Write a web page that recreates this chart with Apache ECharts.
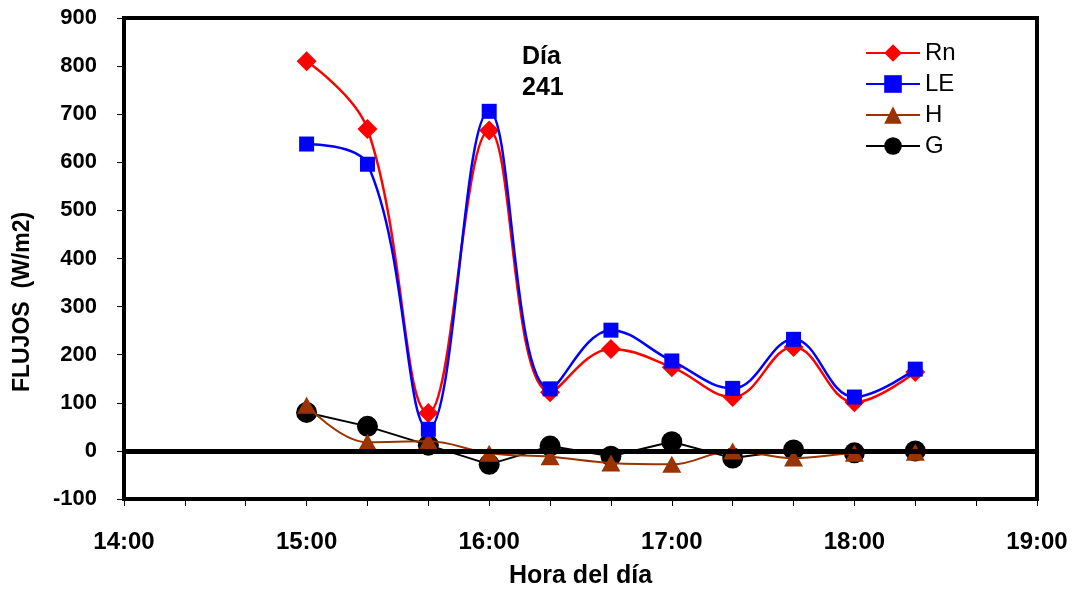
<!DOCTYPE html>
<html>
<head>
<meta charset="utf-8">
<script src="https://cdn.jsdelivr.net/npm/echarts@6/dist/echarts.min.js"></script>
<style>
html,body{margin:0;padding:0;background:#fff;}
#c{width:1082px;height:590px;}
</style>
</head>
<body>
<div id="c"></div>
<script>
// Data
const times = ["15:00","15:20","15:40","16:00","16:20","16:40","17:00","17:20","17:40","18:00","18:20"];
const Rn = [810, 669, 79, 666, 122, 212, 174, 112, 216, 101, 164];
const LE = [638, 596, 45, 706, 129, 251, 187, 130, 232, 112, 170];
const H  = [95, 18, 20, -5, -12, -25, -28, 0, -15, -5, -3];
const G  = [80, 51, 12, -28, 10, -11, 19, -15, 2, -4, 0];
const xTickLabels = ["14:00","15:00","16:00","17:00","18:00","19:00"];
const yTicks = [-100, 900, 100];

const toMin = s => { const p = s.split(":"); return (+p[0]) * 60 + (+p[1]); };
const pair = arr => times.map((t, i) => [toMin(t), arr[i]]);

const font = '"Liberation Sans", Arial, sans-serif';
const chart = echarts.init(document.getElementById('c'), null, {renderer: 'canvas'});
chart.setOption({
  animation: false,
  backgroundColor: '#fff',
  grid: {left: 124, right: 45, top: 18, bottom: 91, outerBoundsMode: 'none', containLabel: false,
    show: true, borderColor: '#000', borderWidth: 4, backgroundColor: 'transparent'},
  xAxis: {
    type: 'value', min: toMin(xTickLabels[0]), max: toMin(xTickLabels[xTickLabels.length - 1]), interval: 60,
    axisLine: {show: true, onZero: false, lineStyle: {color: '#000', width: 4}},
    axisTick: {show: true, length: 7, lineStyle: {color: '#000', width: 1}},
    minorTick: {show: true, splitNumber: 3, length: 7, lineStyle: {color: '#000', width: 1}},
    splitLine: {show: false},
    axisLabel: {
      margin: 31, color: '#000', fontFamily: font, fontWeight: 'bold', fontSize: 24,
      formatter: v => xTickLabels.find(s => toMin(s) === v) || ''
    },
    name: 'Hora del día', nameLocation: 'middle', nameGap: 65,
    nameTextStyle: {color: '#000', fontFamily: font, fontWeight: 'bold', fontSize: 25}
  },
  yAxis: {
    type: 'value', min: yTicks[0], max: yTicks[1], interval: yTicks[2],
    axisLine: {show: true, lineStyle: {color: '#000', width: 4}},
    axisTick: {show: true, length: 7, lineStyle: {color: '#000', width: 1}},
    splitLine: {show: false},
    axisLabel: {margin: 27, color: '#000', fontFamily: font, fontWeight: 'bold', fontSize: 22}
  },
  legend: {
    orient: 'vertical', left: 860, top: 36, itemWidth: 54, itemHeight: 22, itemGap: 7,
    textStyle: {color: '#000', fontFamily: font, fontSize: 24, lineHeight: 24},
    data: ['Rn', 'LE', 'H', 'G']
  },
  graphic: [
    {type: 'text', left: 522, top: 42, style: {text: 'Día\n241', fontFamily: font, fontWeight: 'bold', fontSize: 25, lineHeight: 31, fill: '#000'}},
    {type: 'text', x: 23, y: 302, rotation: Math.PI / 2, style: {text: 'FLUJOS  (W/m2)', fontFamily: font, fontWeight: 'bold', fontSize: 23, fill: '#000', align: 'center', verticalAlign: 'middle'}}
  ],
  series: [
    {name: 'G', type: 'line', data: pair(G), z: 2, symbol: 'circle', symbolSize: 21,
      lineStyle: {color: '#000', width: 2}, itemStyle: {color: '#000'},
      markLine: {silent: true, symbol: 'none', label: {show: false}, lineStyle: {color: '#000', width: 5, type: 'solid'}, data: [{yAxis: 0}]}},
    {name: 'H', type: 'line', data: pair(H), z: 3, smooth: 0.4, symbol: 'triangle', symbolSize: [19, 17],
      lineStyle: {color: '#993300', width: 2}, itemStyle: {color: '#993300'}},
    {name: 'Rn', type: 'line', data: pair(Rn), z: 4, smooth: 0.4, symbol: 'diamond', symbolSize: 20,
      lineStyle: {color: '#ff0000', width: 2.5}, itemStyle: {color: '#ff0000'}},
    {name: 'LE', type: 'line', data: pair(LE), z: 5, smooth: 0.4, symbol: 'rect', symbolSize: 15,
      lineStyle: {color: '#0000ff', width: 2.5}, itemStyle: {color: '#0000ff'}}
  ]
});
</script>
</body>
</html>
